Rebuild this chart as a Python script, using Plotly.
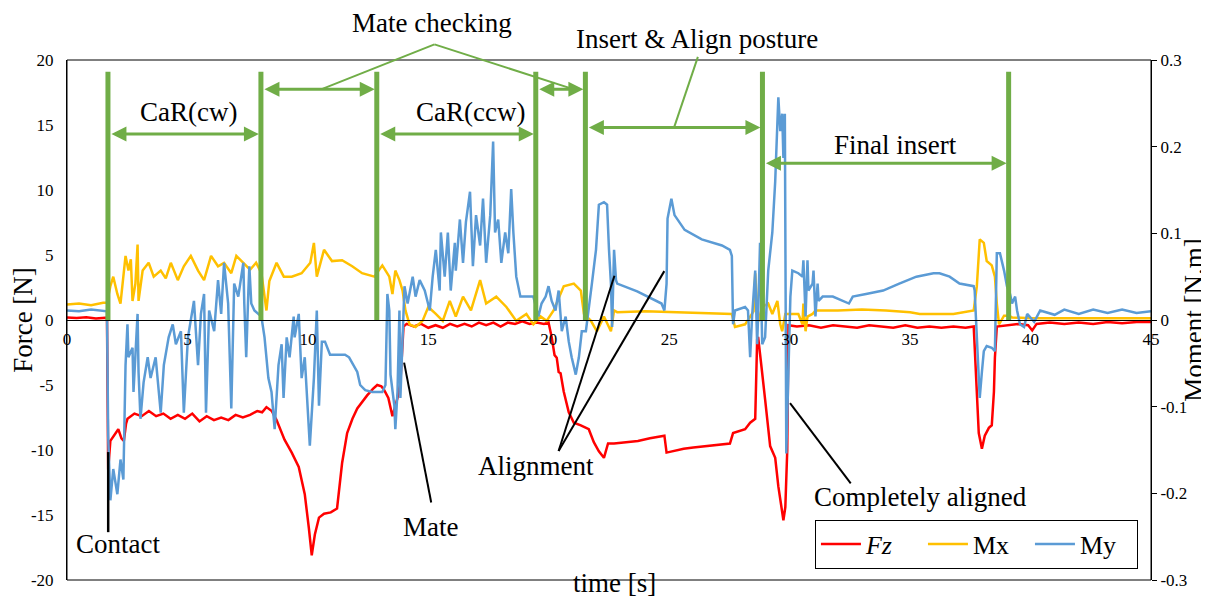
import plotly.graph_objects as go

# ---------------- data ----------------
fz_t = [0, 0.4, 0.8, 1.2, 1.66, 1.71, 1.80, 1.95, 2.13, 2.26,
        2.36, 2.45, 2.51, 2.8, 3.1, 3.4, 3.7, 4.0, 4.3, 4.6,
        4.9, 5.2, 5.5, 5.8, 6.1, 6.4, 6.7, 7.0, 7.3, 7.6,
        7.9, 8.1, 8.28, 8.5, 8.7, 9.03, 9.33, 9.62, 9.87, 10.04,
        10.16, 10.29, 10.46, 10.67, 10.95, 11.21, 11.42, 11.63, 11.85, 12.05,
        12.25, 12.46, 12.7, 12.88, 13.05, 13.17, 13.34, 13.51, 13.72, 13.84,
        13.97, 14.1, 14.4, 14.7, 15.0, 15.3, 15.6, 15.9, 16.2, 16.5,
        16.8, 17.1, 17.4, 17.7, 18.0, 18.3, 18.6, 18.9, 19.2, 19.5,
        19.8, 19.99, 20.12, 20.24, 20.33, 20.41, 20.49, 20.62, 20.83, 21.04,
        21.33, 21.66, 21.87, 22.08, 22.29, 22.46, 22.71, 23.2, 23.7, 24.2,
        24.80, 24.89, 25.14, 25.6, 26.0, 26.47, 27.0, 27.52, 27.65, 28.15,
        28.36, 28.57, 28.65, 28.69, 28.77, 28.86, 28.98, 29.19, 29.40, 29.53,
        29.69, 29.74, 29.82, 29.90, 29.95, 30.3, 30.8, 31.3, 31.8, 32.3,
        32.8, 33.3, 33.8, 34.3, 34.8, 35.3, 35.8, 36.3, 36.8, 37.3,
        37.64, 37.77, 37.85, 37.98, 38.10, 38.27, 38.39, 38.48, 38.52, 38.60,
        39.0, 39.5, 39.9, 40.07, 40.25, 40.8, 41.4, 42.0, 42.6, 43.2,
        43.8, 44.4, 45]
fz = [0.2, 0.15, 0.22, 0.12, 0.18, -11.5, -9.3, -8.9, -8.4, -9.1,
      -9.3, -8.0, -7.6, -7.2, -7.4, -7.0, -7.4, -7.2, -7.6, -7.3,
      -7.6, -7.2, -7.8, -7.4, -7.7, -7.5, -7.7, -7.3, -7.5, -7.3,
      -7.0, -7.1, -6.7, -7.0, -7.7, -9.2, -10.2, -11.3, -13.4, -16.0,
      -18.1, -16.5, -15.2, -14.9, -14.8, -14.5, -11.0, -8.7, -7.6, -6.8,
      -6.3, -5.8, -5.3, -5.0, -5.1, -5.4, -6.0, -7.4, -6.0, -4.8,
      -0.5, -0.3, -0.5, -0.3, -0.6, -0.4, -0.6, -0.3, -0.5, -0.3,
      -0.5, -0.2, -0.4, -0.2, -0.5, -0.2, -0.3, -0.1, -0.3, -0.2,
      -0.3, -0.2, -1.3, -2.7, -2.9, -4.0, -4.1, -5.5, -7.1, -7.9,
      -8.1, -8.4, -9.4, -10.1, -10.6, -9.5, -9.5, -9.4, -9.3, -9.1,
      -8.9, -10.2, -10.1, -9.9, -9.8, -9.7, -9.6, -9.5, -8.7, -8.4,
      -7.9, -7.6, -1.5, -1.3, -2.6, -4.0, -6.1, -9.7, -10.6, -12.8,
      -14.9, -15.4, -14.4, -10.0, -0.4, -0.5, -0.4, -0.6, -0.4, -0.5,
      -0.6, -0.4, -0.5, -0.6, -0.4, -0.6, -0.5, -0.6, -0.5, -0.6,
      -0.5, -5.5, -8.7, -9.9, -8.9, -8.3, -8.1, -5.5, -2.9, -0.5,
      -0.4, -0.3, -0.4, -0.8, -0.3, -0.2, -0.3, -0.2, -0.3, -0.15,
      -0.25, -0.15, -0.15]

mx_t = [0, 0.5, 1.0, 1.5, 1.66, 1.80, 1.92, 2.09, 2.22, 2.30,
        2.43, 2.55, 2.65, 2.72, 2.84, 2.93, 2.97, 3.14, 3.39, 3.60,
        3.89, 4.10, 4.31, 4.60, 4.85, 5.14, 5.44, 5.69, 5.98, 6.27,
        6.52, 6.82, 7.03, 7.32, 7.6, 7.85, 8.07, 8.28, 8.40, 8.70,
        9.0, 9.33, 9.74, 10.1, 10.25, 10.37, 10.67, 11.0, 11.42, 11.84,
        12.25, 12.76, 13.09, 13.38, 13.51, 13.63, 13.80, 13.93, 14.05, 14.22,
        14.47, 14.76, 15.0, 15.31, 15.60, 15.89, 16.14, 16.44, 16.77, 17.15,
        17.40, 17.82, 18.24, 18.65, 19.07, 19.36, 19.66, 19.91, 20.20, 20.62,
        21.04, 21.33, 21.46, 21.75, 22.00, 22.29, 22.58, 22.71, 22.84, 24.0,
        25.0, 26.0, 27.6, 27.73, 28.15, 28.50, 28.57, 28.69, 28.86, 29.11,
        29.28, 29.49, 29.61, 29.69, 29.82, 30.36, 30.53, 30.57, 30.66, 30.74,
        30.95, 31.07, 32.0, 33.0, 34.0, 35.0, 35.4, 36.8, 37.64, 37.77,
        37.89, 38.06, 38.18, 38.39, 38.52, 38.60, 38.69, 38.90, 39.1, 39.23,
        40.0, 42.5, 45]
mx = [0.018, 0.019, 0.017, 0.020, 0.020, 0.039, 0.050, 0.030, 0.019, 0.042,
      0.074, 0.057, 0.070, 0.022, 0.042, 0.087, 0.022, 0.057, 0.066, 0.050,
      0.057, 0.048, 0.066, 0.046, 0.062, 0.074, 0.057, 0.046, 0.074, 0.062,
      0.066, 0.054, 0.074, 0.066, 0.058, 0.066, 0.054, 0.011, 0.045, 0.066,
      0.050, 0.050, 0.054, 0.066, 0.089, 0.050, 0.081, 0.068, 0.069, 0.062,
      0.054, 0.050, 0.063, 0.050, 0.030, 0.057, 0.046, 0.034, 0.011, -0.005,
      -0.008, -0.001, 0.015, 0.007, -0.001, 0.022, 0.004, 0.027, 0.011, 0.046,
      0.019, 0.027, 0.015, -0.001, 0.007, -0.005, 0.004, -0.001, 0.011, 0.039,
      0.042, 0.034, 0.007, -0.001, -0.013, 0.004, -0.013, 0.011, 0.009, 0.010,
      0.009, 0.008, 0.007, -0.008, -0.005, 0.010, 0.054, -0.002, 0.015, 0.019,
      0.007, 0.022, -0.005, -0.013, 0.007, 0.007, -0.005, 0.019, -0.013, 0.004,
      0.007, 0.011, 0.011, 0.012, 0.011, 0.009, 0.007, 0.007, 0.011, 0.039,
      0.093, 0.089, 0.068, 0.063, 0.050, 0.019, -0.005, 0.005, 0.005, 0.003,
      0.002, 0.002, 0.002]

my_t = [0, 0.5, 1.0, 1.5, 1.66, 1.71, 1.75, 1.80, 1.92, 2.09,
        2.22, 2.30, 2.34, 2.43, 2.51, 2.55, 2.72, 2.76, 2.93, 2.97,
        3.05, 3.18, 3.35, 3.47, 3.68, 3.89, 4.02, 4.22, 4.39, 4.52,
        4.73, 4.85, 5.02, 5.23, 5.27, 5.44, 5.56, 5.69, 5.77, 5.90,
        6.11, 6.27, 6.40, 6.52, 6.69, 6.82, 6.94, 7.11, 7.32, 7.36,
        7.44, 7.53, 7.57, 7.65, 7.78, 8.07, 8.20, 8.36, 8.49, 8.62,
        8.70, 8.78, 8.91, 8.99, 9.12, 9.24, 9.41, 9.45, 9.62, 9.74,
        9.87, 10.04, 10.08, 10.25, 10.37, 10.46, 10.58, 10.71, 10.92, 11.29,
        11.54, 11.71, 12.05, 12.17, 12.38, 12.67, 13.09, 13.22, 13.30, 13.38,
        13.43, 13.59, 13.63, 13.72, 13.80, 13.84, 13.93, 14.01, 14.14, 14.35,
        14.47, 14.64, 14.85, 15.06, 15.18, 15.31, 15.47, 15.52, 15.68, 15.81,
        15.93, 16.10, 16.14, 16.31, 16.44, 16.56, 16.73, 16.85, 16.98, 17.15,
        17.27, 17.40, 17.57, 17.69, 17.77, 17.90, 18.03, 18.19, 18.32, 18.44,
        18.53, 18.65, 18.82, 19.07, 19.36, 19.57, 19.70, 19.87, 19.99, 20.12,
        20.28, 20.41, 20.54, 20.70, 20.83, 20.95, 21.12, 21.25, 21.37, 21.54,
        21.66, 21.79, 21.96, 22.08, 22.29, 22.42, 22.50, 22.58, 22.63, 22.71,
        22.79, 22.84, 23.67, 24.68, 24.80, 24.89, 24.93, 25.09, 25.22, 25.64,
        26.35, 27.19, 27.52, 27.60, 27.65, 27.73, 28.15, 28.27, 28.36, 28.44,
        28.57, 28.65, 28.69, 28.77, 28.86, 28.98, 29.11, 29.28, 29.40, 29.53,
        29.61, 29.69, 29.74, 29.80, 29.86, 29.95, 30.03, 30.11, 30.36, 30.53,
        30.57, 30.66, 30.74, 30.78, 30.95, 30.99, 31.07, 31.16, 31.20, 31.37,
        31.79, 32.46, 32.62, 33.17, 33.88, 34.55, 35.26, 35.97, 36.22, 36.64,
        37.05, 37.64, 37.68, 37.73, 37.85, 37.89, 37.98, 38.06, 38.18, 38.39,
        38.52, 38.56, 38.60, 38.73, 38.90, 39.02, 39.15, 39.23, 39.36, 39.44,
        39.56, 39.73, 39.86, 40.15, 40.40, 41.0, 41.40, 42.0, 42.6, 43.2,
        43.8, 44.4, 45]
my = [0.011, 0.010, 0.012, 0.010, 0.010, -0.134, -0.169, -0.208, -0.172, -0.201,
      -0.161, -0.177, -0.184, -0.052, -0.005, -0.043, -0.032, -0.083, 0.007, -0.060,
      -0.114, -0.072, -0.043, -0.067, -0.043, -0.107, -0.052, -0.020, -0.005, -0.028,
      -0.013, -0.107, -0.020, 0.015, 0.022, -0.052, 0.007, 0.030, -0.107, 0.011,
      -0.013, 0.046, 0.007, 0.066, 0.019, -0.102, 0.042, 0.027, 0.066, 0.019,
      -0.043, 0.034, 0.062, 0.019, 0.011, 0.004, -0.020, -0.067, -0.083, -0.126,
      -0.083, -0.052, -0.028, -0.090, -0.020, -0.043, 0.004, -0.020, 0.007, -0.067,
      -0.043, -0.130, -0.145, -0.067, 0.011, -0.099, -0.025, -0.025, -0.040, -0.040,
      -0.040, -0.043, -0.060, -0.075, -0.081, -0.083, -0.083, -0.075, 0.030, 0.011,
      -0.063, -0.099, -0.126, -0.083, 0.011, -0.090, -0.016, 0.039, 0.019, 0.050,
      0.027, 0.046, 0.034, 0.011, 0.050, 0.081, 0.034, 0.101, 0.050, 0.101,
      0.034, 0.089, 0.057, 0.116, 0.066, 0.113, 0.148, 0.062, 0.121, 0.086,
      0.140, 0.066, 0.121, 0.206, 0.101, 0.116, 0.066, 0.101, 0.077, 0.151,
      0.101, 0.050, 0.027, 0.027, 0.027, 0.004, 0.019, 0.027, 0.039, 0.022,
      0.011, 0.034, -0.013, 0.004, -0.025, -0.043, -0.063, -0.043, -0.013, -0.013,
      0.011, 0.042, 0.081, 0.133, 0.136, 0.133, 0.081, 0.042, -0.008, 0.081,
      0.046, 0.042, 0.033, 0.019, 0.011, 0.042, 0.117, 0.140, 0.121, 0.104,
      0.093, 0.086, 0.081, 0.074, -0.005, 0.011, 0.015, 0.011, -0.043, 0.004,
      0.057, -0.028, 0.004, 0.089, -0.028, -0.020, 0.057, 0.101, 0.160, 0.257,
      0.218, 0.238, 0.187, 0.238, -0.154, -0.055, 0.027, 0.057, 0.054, 0.050,
      0.069, 0.004, 0.069, 0.034, 0.042, 0.057, 0.004, 0.042, 0.022, 0.027,
      0.027, 0.019, 0.027, 0.030, 0.034, 0.042, 0.050, 0.054, 0.054, 0.050,
      0.042, 0.039, 0.034, 0.004, -0.060, -0.090, -0.060, -0.036, -0.030, -0.032,
      -0.036, 0.019, 0.077, 0.077, 0.057, 0.039, 0.030, 0.019, 0.027, 0.011,
      -0.005, -0.008, 0.007, -0.002, 0.011, 0.006, 0.012, 0.007, 0.012, 0.008,
      0.012, 0.008, 0.010]

x_ticks = [0, 5, 10, 15, 20, 25, 30, 35, 40, 45]
x_labels = ["0", "5", "10", "15", "20", "25", "30", "35", "40", "45"]
force_ticks = [-20, -15, -10, -5, 0, 5, 10, 15, 20]
force_labels = ["-20", "-15", "-10", "-5", "0", "5", "10", "15", "20"]
moment_ticks = [-0.3, -0.2, -0.1, 0, 0.1, 0.2, 0.3]
moment_labels = ["-0.3", "-0.2", "-0.1", "0", "0.1", "0.2", "0.3"]

# phase boundaries [s] and phase arrows (start, end, force level)
phase_bounds = [1.70, 8.05, 12.86, 19.46, 21.52, 28.87, 39.09]
phase_arrows = [(1.70, 8.05, 14.3), (8.05, 12.86, 17.75), (12.86, 19.46, 14.3),
                (19.46, 21.52, 17.75), (21.52, 28.87, 14.8), (28.87, 39.09, 12.05)]

assert len(fz_t) == len(fz) and len(mx_t) == len(mx) and len(my_t) == len(my)

FONT = "Liberation Serif, Times New Roman, serif"
GREEN = "#70AD47"
BIG = 27
TICK = 17

fig = go.Figure()
fig.add_trace(go.Scatter(x=fz_t, y=fz, name="<i>Fz</i>", mode="lines",
                         line=dict(color="#FF0000", width=2.5)))
fig.add_trace(go.Scatter(x=mx_t, y=mx, name="Mx", mode="lines", yaxis="y2",
                         line=dict(color="#FFC000", width=2.5)))
fig.add_trace(go.Scatter(x=my_t, y=my, name="My", mode="lines", yaxis="y2",
                         line=dict(color="#5B9BD5", width=2.5)))

shapes = [dict(type="rect", xref="paper", yref="paper", x0=0, x1=1, y0=0, y1=1,
               line=dict(color="black", width=1), layer="above")]
for b in phase_bounds:
    shapes.append(dict(type="line", xref="x", yref="y", x0=b, x1=b, y0=0, y1=19.1,
                       line=dict(color=GREEN, width=5)))

def pline(p0, p1, color, width=2):
    return dict(type="line", xref="paper", yref="paper", x0=p0[0], y0=p0[1],
                x1=p1[0], y1=p1[1], line=dict(color=color, width=width))

# green leader lines
shapes.append(pline((0.235, 0.944), (0.339, 1.030), GREEN))
shapes.append(pline((0.339, 1.030), (0.467, 0.944), GREEN))
shapes.append(pline((0.582, 1.006), (0.560, 0.870), GREEN))
# black leader lines
shapes.append(pline((0.038, 0.246), (0.038, 0.092), "black", 2.5))
shapes.append(pline((0.311, 0.418), (0.336, 0.149), "black", 2))
shapes.append(pline((0.4535, 0.248), (0.505, 0.585), "black", 2))
shapes.append(pline((0.4535, 0.248), (0.551, 0.594), "black", 2))
shapes.append(pline((0.667, 0.340), (0.723, 0.186), "black", 2))

annotations = []
for a0, a1, lev in phase_arrows:
    annotations.append(dict(x=a1, y=lev, ax=a0, ay=lev, xref="x", yref="y",
                            axref="x", ayref="y", text="", showarrow=True,
                            arrowhead=2, startarrowhead=2, arrowside="end+start",
                            arrowsize=1, startarrowsize=1, arrowwidth=3,
                            arrowcolor=GREEN, standoff=2, startstandoff=2))

tfont = dict(family=FONT, size=BIG, color="black")
for txt, x, y in [("CaR(cw)", 5.06, 16.0), ("CaR(ccw)", 16.77, 16.0),
                  ("Final insert", 34.38, 13.5), ("Contact", 2.13, -17.2),
                  ("Mate", 15.10, -15.95), ("Alignment", 19.45, -11.2),
                  ("Completely aligned", 35.42, -13.6)]:
    annotations.append(dict(x=x, y=y, xref="x", yref="y", text=txt,
                            xanchor="center", yanchor="middle",
                            showarrow=False, font=tfont))
for txt, x, y in [("Mate checking", 0.337, 1.072),
                  ("Insert &amp; Align posture", 0.581, 1.040),
                  ("time [s]", 0.505, -0.006)]:
    annotations.append(dict(x=x, y=y, xref="paper", yref="paper", text=txt,
                            xanchor="center", yanchor="middle",
                            showarrow=False, font=tfont))

# the page body adds an 8 px margin, so the figure is 8 px smaller
fig.update_layout(
    width=1201, height=590,
    margin=dict(l=59, r=58, t=52, b=18),
    paper_bgcolor="white", plot_bgcolor="white",
    font=dict(family=FONT, color="black", size=TICK),
    xaxis=dict(range=[0, 45], anchor="free", position=0.5, showline=True,
               linecolor="black", linewidth=1, tickvals=x_ticks, ticktext=x_labels,
               ticks="", showgrid=False, zeroline=False, automargin=False,
               ticklabelstandoff=4,
               tickfont=dict(family=FONT, size=TICK, color="black")),
    yaxis=dict(range=[-20, 20], tickvals=force_ticks, ticktext=force_labels,
               showline=True, linecolor="black", linewidth=1, ticks="",
               showgrid=False, zeroline=False, ticklabelstandoff=9,
               automargin=False,
               tickfont=dict(family=FONT, size=TICK, color="black"),
               title=dict(text="Force [N]", font=dict(family=FONT, size=BIG),
                          standoff=10)),
    yaxis2=dict(range=[-0.3, 0.3], overlaying="y", side="right",
                tickvals=moment_ticks, ticktext=moment_labels,
                showline=True, linecolor="black", linewidth=1, ticks="outside",
                ticklen=5, tickcolor="black", showgrid=False, zeroline=False,
                automargin=False,
                tickfont=dict(family=FONT, size=TICK, color="black"),
                title=dict(text="Moment [N.m]", font=dict(family=FONT, size=BIG),
                           standoff=6)),
    legend=dict(orientation="h", x=0.69, y=0.116, xanchor="left", yanchor="top",
                bordercolor="black", borderwidth=1, bgcolor="white",
                font=dict(family=FONT, size=BIG - 1, color="black"),
                entrywidth=52, itemwidth=40),
    shapes=shapes,
    annotations=annotations,
)

fig.write_html("out.html")
